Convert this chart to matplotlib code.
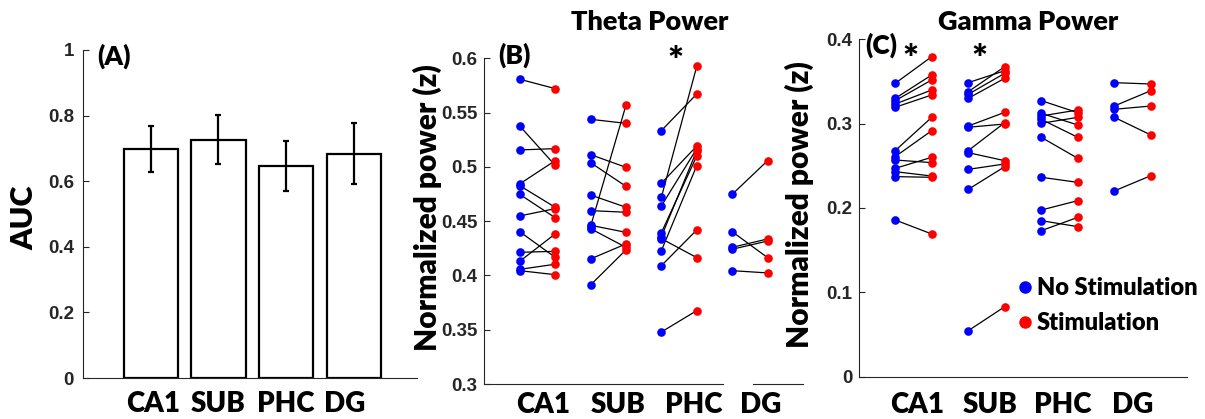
import matplotlib
matplotlib.use("Agg")
import matplotlib.pyplot as plt
from matplotlib.lines import Line2D

# ---------------- data ----------------
regions = ["CA1", "SUB", "PHC", "DG"]

auc_mean = [0.698, 0.727, 0.646, 0.684]
auc_err = [0.071, 0.075, 0.077, 0.094]

theta_nostim = [
    [0.5807, 0.5377, 0.5156, 0.4843, 0.4827, 0.4747, 0.4548, 0.4403, 0.4213, 0.4130, 0.4056, 0.4044],
    [0.5438, 0.4450, 0.5113, 0.5039, 0.4741, 0.4597, 0.4462, 0.4431, 0.4152, 0.3912],
    [0.5334, 0.4849, 0.4720, 0.4640, 0.4394, 0.4357, 0.4339, 0.4228, 0.4090, 0.3479],
    [0.4747, 0.4403, 0.4259, 0.4241, 0.4044],
]
theta_stim = [
    [0.5721, 0.5014, 0.5168, 0.5057, 0.4628, 0.4532, 0.4615, 0.4167, 0.4222, 0.4382, 0.4103, 0.4007],
    [0.5401, 0.5567, 0.4996, 0.4821, 0.4628, 0.4582, 0.4397, 0.4259, 0.4290, 0.4235],
    [0.5671, 0.5192, 0.5926, 0.5168, 0.5100, 0.5150, 0.4164, 0.5011, 0.4419, 0.3676],
    [0.5057, 0.4164, 0.4336, 0.4317, 0.4023],
]
gamma_nostim = [
    [0.3478, 0.3300, 0.3273, 0.3233, 0.3194, 0.2680, 0.2609, 0.2569, 0.2470, 0.2431, 0.2372, 0.1858],
    [0.3486, 0.3379, 0.3348, 0.3300, 0.2972, 0.2957, 0.2680, 0.2656, 0.2458, 0.2221, 0.0545],
    [0.3273, 0.3123, 0.3091, 0.3051, 0.3004, 0.2838, 0.2364, 0.1976, 0.1850, 0.1731],
    [0.3486, 0.3209, 0.3170, 0.3075, 0.2202],
]
gamma_stim = [
    [0.3794, 0.3577, 0.3518, 0.3399, 0.3340, 0.3075, 0.2917, 0.2538, 0.2601, 0.2379, 0.2364, 0.1692],
    [0.3628, 0.3676, 0.3597, 0.3538, 0.3134, 0.2996, 0.3012, 0.2561, 0.2522, 0.2490, 0.0830],
    [0.3130, 0.2984, 0.3162, 0.2838, 0.3075, 0.2589, 0.2304, 0.2087, 0.1779, 0.1889],
    [0.3470, 0.3391, 0.3209, 0.2866, 0.2383],
]

auc_yticks = [0, 0.2, 0.4, 0.6, 0.8, 1]
auc_yticklabels = ["0", "0.2", "0.4", "0.6", "0.8", "1"]
theta_yticks = [0.3, 0.35, 0.4, 0.45, 0.5, 0.55, 0.6]
theta_yticklabels = ["0.3", "0.35", "0.4", "0.45", "0.5", "0.55", "0.6"]
gamma_yticks = [0, 0.1, 0.2, 0.3, 0.4]
gamma_yticklabels = ["0", "0.1", "0.2", "0.3", "0.4"]

# ---------------- style ----------------
LABEL_FONT = ["Lato", "DejaVu Sans"]
LW = "heavy"
TICK_FONT = ["Liberation Sans", "DejaVu Sans"]
AX_COLOR = "#262626"
W, H = 1205, 419

fig = plt.figure(figsize=(W / 100, H / 100), dpi=100)


def px_axes(left, right, top, bottom):
    return fig.add_axes([left / W, 1 - bottom / H, (right - left) / W, (bottom - top) / H])


def style_axes(ax, yticks, yticklabels, ypad, xpad):
    for s in ["top", "right"]:
        ax.spines[s].set_visible(False)
    for s in ["left", "bottom"]:
        ax.spines[s].set_color(AX_COLOR)
        ax.spines[s].set_linewidth(0.8)
    ax.set_yticks(yticks)
    ax.set_yticklabels(yticklabels, fontfamily=TICK_FONT, fontweight="bold",
                       fontsize=13.5, color=AX_COLOR)
    ax.tick_params(axis="y", direction="in", length=4, width=0.8, color=AX_COLOR, pad=ypad)
    ax.tick_params(axis="x", length=0, pad=xpad)


# ---------------- panel A ----------------
axA = px_axes(83, 417, 50, 378)
xa = list(range(1, len(regions) + 1))
axA.bar(xa, auc_mean, width=0.8, facecolor="white", edgecolor="black", linewidth=1.6, zorder=2)
axA.errorbar(xa, auc_mean, yerr=auc_err, fmt="none", ecolor="black", elinewidth=1.6,
             capsize=2.5, capthick=1.6, zorder=3)
axA.set_xlim(0, 4.93)
axA.set_ylim(0, 1)
style_axes(axA, auc_yticks, auc_yticklabels, ypad=6.5, xpad=9)
axA.set_xticks([1.04, 2.0, 2.99, 3.87])
axA.set_xticklabels(regions, fontfamily=LABEL_FONT, fontweight=LW, fontsize=20)
axA.text(-0.174, 0.488, "AUC", rotation=90, ha="center", va="center", transform=axA.transAxes,
         fontfamily=LABEL_FONT, fontweight=LW, fontsize=22)
axA.text(0.042, 0.98, "(A)", ha="left", va="center", transform=axA.transAxes,
         fontfamily=LABEL_FONT, fontweight=LW, fontsize=19)


def paired(ax, nostim, stim):
    for g in range(len(regions)):
        xb, xr = 2 * g + 1, 2 * g + 2
        for b, r in zip(nostim[g], stim[g]):
            ax.plot([xb, xr], [b, r], color="black", linewidth=0.9, zorder=2)
        ax.plot([xb] * len(nostim[g]), nostim[g], "o", color="blue", markersize=6.2,
                markeredgewidth=0, zorder=3)
        ax.plot([xr] * len(stim[g]), stim[g], "o", color="red", markersize=6.2,
                markeredgewidth=0, zorder=3)


# ---------------- panel B ----------------
axB = px_axes(484.3, 803, 58.3, 384)
paired(axB, theta_nostim, theta_stim)
axB.set_xlim(0, 9)
axB.set_ylim(0.3, 0.6)
style_axes(axB, theta_yticks, theta_yticklabels, ypad=5, xpad=6)
axB.spines["bottom"].set_bounds(0, 6.74)
axB.axhline(0.3, xmin=7.6 / 9, xmax=1, color=AX_COLOR, linewidth=0.8, clip_on=False)
axB.set_xticks([1.66, 3.78, 5.9, 7.8])
axB.set_xticklabels(regions, fontfamily=LABEL_FONT, fontweight=LW, fontsize=20)
axB.text(-0.177, 0.543, "Normalized power (z)", rotation=90, ha="center", va="center",
         transform=axB.transAxes, fontfamily=LABEL_FONT, fontweight=LW, fontsize=21.5)
axB.text(0.096, 1.01, "(B)", ha="center", va="center", transform=axB.transAxes,
         fontfamily=LABEL_FONT, fontweight=LW, fontsize=19)
axB.text(5.41, 0.99, "*", ha="center", va="center",
         transform=axB.get_xaxis_transform(), fontfamily=LABEL_FONT, fontweight=LW, fontsize=27)

# ---------------- panel C ----------------
axC = px_axes(858.7, 1187.3, 39.3, 376.7)
paired(axC, gamma_nostim, gamma_stim)
axC.set_xlim(0, 9)
axC.set_ylim(0, 0.4)
style_axes(axC, gamma_yticks, gamma_yticklabels, ypad=4.5, xpad=11)
axC.set_xticks([1.59, 3.6, 5.6, 7.5])
axC.set_xticklabels(regions, fontfamily=LABEL_FONT, fontweight=LW, fontsize=20)
axC.text(-0.179, 0.509, "Normalized power (z)", rotation=90, ha="center", va="center",
         transform=axC.transAxes, fontfamily=LABEL_FONT, fontweight=LW, fontsize=21.5)
axC.text(0.068, 0.983, "(C)", ha="center", va="center", transform=axC.transAxes,
         fontfamily=LABEL_FONT, fontweight=LW, fontsize=19)
for xs in [1.43, 3.32]:
    axC.text(xs, 0.94, "*", ha="center", va="center", transform=axC.get_xaxis_transform(),
             fontfamily=LABEL_FONT, fontweight=LW, fontsize=27)

handles = [Line2D([], [], marker="o", linestyle="none", color="blue", markersize=9, markeredgewidth=0),
           Line2D([], [], marker="o", linestyle="none", color="red", markersize=9, markeredgewidth=0)]
axC.legend(handles, ["No Stimulation", "Stimulation"], loc="upper left",
           bbox_to_anchor=(0.485, 0.295), frameon=False, borderpad=0, borderaxespad=0,
           handlelength=0.6, handletextpad=0.2, labelspacing=0.55,
           prop={"family": LABEL_FONT, "weight": LW, "size": 17})

# ---------------- titles ----------------
fig.text(650 / W, 1 - 22 / H, "Theta Power", ha="center", va="center",
         fontfamily=LABEL_FONT, fontweight=LW, fontsize=19.5)
fig.text(1028 / W, 1 - 22 / H, "Gamma Power", ha="center", va="center",
         fontfamily=LABEL_FONT, fontweight=LW, fontsize=19.5)

fig.savefig("out.png", dpi=100, facecolor="white")
